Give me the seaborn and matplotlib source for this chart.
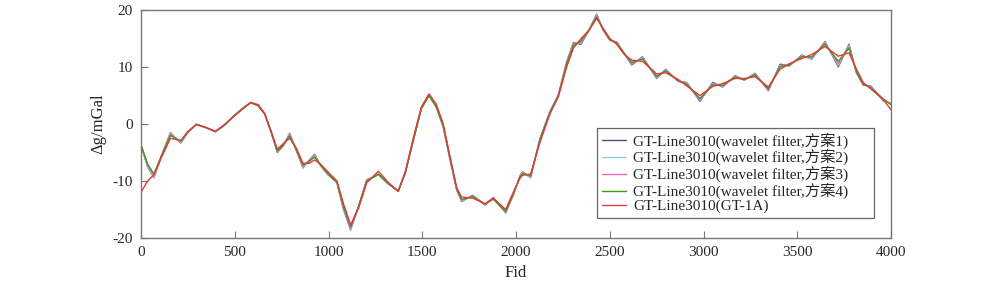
# Gravity anomaly along GT-Line3010: wavelet filter variants vs GT-1A
import matplotlib
matplotlib.use("Agg")
import matplotlib.pyplot as plt
import seaborn as sns
import pandas as pd

fid = [0, 35, 69, 110, 157, 185, 212, 250, 295, 345, 397, 445, 491, 540, 585, 625, 660,
       695, 727, 760, 793, 830, 864, 895, 926, 960, 997, 1045, 1080, 1118, 1160, 1204,
       1266, 1320, 1372, 1410, 1452, 1495, 1536, 1575, 1612, 1650, 1684, 1710, 1769,
       1835, 1879, 1945, 1985, 2021, 2035, 2078, 2128, 2181, 2226, 2270, 2306, 2347,
       2390, 2430, 2465, 2501, 2537, 2575, 2617, 2675, 2750, 2798, 2866, 2910, 2981,
       3049, 3102, 3168, 3218, 3275, 3346, 3408, 3458, 3524, 3577, 3648, 3719, 3776,
       3815, 3852, 3891, 3959, 4000]

# 方案1
wavelet1 = [-3.7, -7.5, -9.4, -5.5, -1.5, -2.5, -3.3, -1.5, -0.05, -0.6, -1.35, -0.2, 1.3,
            2.6, 3.75, 3.3, 1.9, -1.5, -5.0, -3.8, -1.6, -4.8, -7.7, -6.4, -5.3, -7.4, -8.9,
            -10.2, -15.0, -18.6, -14.5, -9.8, -8.9, -10.5, -11.75, -8.5, -2.8, 2.8, 5.1, 3.0,
            -0.5, -6.5, -11.6, -13.6, -12.5, -14.2, -12.9, -15.6, -12.5, -9.1, -8.4, -9.4,
            -2.5, 2.2, 5.1, 10.9, 14.3, 14.0, 16.5, 19.3, 16.5, 14.7, 14.4, 12.5, 10.35,
            11.8, 8.0, 9.6, 7.5, 7.3, 4.0, 7.3, 6.5, 8.5, 7.7, 8.9, 5.85, 10.5, 10.2, 12.1,
            11.4, 14.45, 10.05, 14.0, 9.0, 6.8, 6.7, 4.1, 3.6]
# 方案2
wavelet2 = [-3.7, -7.4, -9.3, -5.5, -1.6, -2.5, -3.2, -1.5, -0.05, -0.6, -1.35, -0.2, 1.3,
            2.6, 3.75, 3.3, 1.8, -1.5, -4.9, -3.7, -1.7, -4.7, -7.6, -6.5, -5.4, -7.4, -8.8,
            -10.2, -14.9, -18.5, -14.5, -9.9, -8.9, -10.5, -11.75, -8.5, -2.8, 2.8, 5.1, 3.0,
            -0.5, -6.4, -11.5, -13.5, -12.6, -14.1, -13.0, -15.5, -12.4, -9.2, -8.5, -9.3,
            -2.6, 2.1, 5.1, 10.8, 14.2, 14.2, 16.5, 19.2, 16.5, 14.7, 14.3, 12.5, 10.5,
            11.7, 8.1, 9.5, 7.5, 7.2, 4.2, 7.1, 6.6, 8.4, 7.7, 8.8, 6.0, 10.3, 10.3, 12.0,
            11.5, 14.3, 10.3, 13.8, 9.1, 6.9, 6.6, 4.2, 3.5]
# 方案3
wavelet3 = [-3.7, -7.2, -9.0, -5.5, -1.8, -2.5, -3.1, -1.4, -0.05, -0.6, -1.3, -0.2, 1.3,
            2.7, 3.75, 3.2, 1.8, -1.5, -4.8, -3.7, -1.9, -4.7, -7.4, -6.5, -5.6, -7.3, -8.8,
            -10.2, -14.7, -18.3, -14.5, -9.9, -8.8, -10.5, -11.75, -8.5, -2.9, 2.7, 5.0, 3.0,
            -0.4, -6.4, -11.5, -13.4, -12.7, -14.1, -13.1, -15.4, -12.4, -9.2, -8.6, -9.2,
            -2.7, 2.0, 5.0, 10.7, 14.0, 14.4, 16.5, 19.0, 16.5, 14.7, 14.3, 12.5, 10.6,
            11.6, 8.2, 9.4, 7.5, 7.1, 4.3, 7.0, 6.7, 8.3, 7.8, 8.7, 6.1, 10.2, 10.3, 11.9,
            11.6, 14.2, 10.6, 13.6, 9.2, 6.9, 6.5, 4.3, 3.5]
# 方案4
wavelet4 = [-3.7, -7.0, -8.8, -5.5, -2.0, -2.5, -3.0, -1.4, -0.05, -0.6, -1.3, -0.2, 1.3,
            2.7, 3.75, 3.2, 1.7, -1.5, -4.7, -3.6, -2.1, -4.6, -7.2, -6.6, -5.8, -7.3, -8.7,
            -10.3, -14.5, -18.0, -14.5, -10.0, -8.8, -10.5, -11.75, -8.5, -2.9, 2.7, 5.0,
            3.0, -0.3, -6.3, -11.4, -13.2, -12.8, -14.0, -13.2, -15.3, -12.3, -9.3, -8.7,
            -9.0, -2.8, 2.0, 5.0, 10.5, 13.8, 14.6, 16.5, 18.8, 16.6, 14.8, 14.2, 12.5,
            10.8, 11.4, 8.4, 9.3, 7.6, 7.0, 4.5, 6.8, 6.8, 8.2, 7.8, 8.6, 6.2, 10.0, 10.4,
            11.8, 11.8, 14.0, 11.0, 13.3, 9.3, 7.0, 6.4, 4.4, 3.4]
# GT-1A
gt1a = [-12.0, -10.0, -8.9, -5.8, -2.5, -2.7, -2.9, -1.3, -0.1, -0.6, -1.3, -0.1, 1.2,
        2.6, 3.8, 3.4, 1.8, -1.4, -4.4, -3.4, -2.5, -4.3, -6.9, -6.9, -6.3, -7.1, -8.4,
        -10.0, -14.0, -17.7, -14.8, -10.3, -8.3, -10.3, -11.8, -8.3, -2.5, 3.0, 5.3, 3.5,
        0.0, -6.0, -11.2, -12.8, -13.0, -14.0, -13.0, -15.0, -12.0, -9.5, -9.0, -8.8,
        -3.2, 1.8, 4.8, 10.0, 13.3, 15.0, 16.5, 18.5, 16.8, 15.0, 14.0, 12.3, 11.2, 11.0,
        8.8, 9.0, 7.8, 6.7, 5.0, 6.6, 7.1, 8.0, 8.0, 8.3, 6.5, 9.6, 10.6, 11.5, 12.2,
        13.6, 11.9, 12.5, 9.7, 7.3, 6.2, 4.3, 2.5]

labels = ["GT-Line3010(wavelet filter,方案1)", "GT-Line3010(wavelet filter,方案2)",
          "GT-Line3010(wavelet filter,方案3)", "GT-Line3010(wavelet filter,方案4)",
          "GT-Line3010(GT-1A)"]
series = [wavelet1, wavelet2, wavelet3, wavelet4, gt1a]
colors = ["#4b4b8f", "#8fd0df", "#e070b4", "#3c9a14", "#e8383a"]

df = pd.concat([pd.DataFrame({"Fid": fid, "dg": s, "line": lab})
                for s, lab in zip(series, labels)], ignore_index=True)

sns.set_style("white")
plt.rcParams["font.family"] = ["Liberation Serif", "Noto Sans CJK SC", "DejaVu Sans"]
plt.rcParams["font.size"] = 11
plt.rcParams["axes.unicode_minus"] = False

fig = plt.figure(figsize=(10, 2.88), dpi=100)
ax = fig.add_axes([0.141, 0.1736, 0.75, 0.7914])

sns.lineplot(data=df, x="Fid", y="dg", hue="line", palette=dict(zip(labels, colors)),
             linewidth=1.0, sort=False, ax=ax, solid_joinstyle="round")

ax.set_xlim(0, 4000)
ax.set_ylim(-20, 20)
ax.set_xticks(range(0, 4001, 500))
ax.set_yticks([-20, -10, 0, 10, 20])
ax.tick_params(direction="in", length=5, color="#777777", labelsize=11,
               top=False, right=False, bottom=True, left=True, pad=6)
for sp in ax.spines.values():
    sp.set_color("#777777")
    sp.set_linewidth(1.0)
ax.set_xlabel("Fid", fontsize=12)
ax.set_ylabel("Δg/mGal", fontsize=12)

# legend box stretched to the reference width, text left aligned
leg = ax.legend(loc="lower left", bbox_to_anchor=(0.608, 0.088, 0.369, 0.39),
                mode="expand", borderaxespad=0, fontsize=11, frameon=True,
                fancybox=False, framealpha=1, edgecolor="#666666", handlelength=1.6,
                labelspacing=0.03, borderpad=0.3, handletextpad=0.45)
leg.get_frame().set_linewidth(0.9)

fig.savefig("out.png", dpi=100)
